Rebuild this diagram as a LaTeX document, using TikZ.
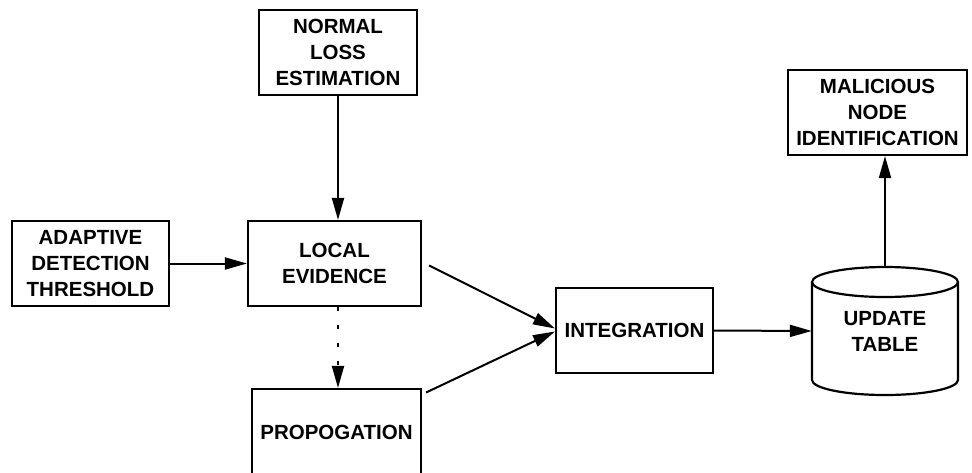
\documentclass[tikz,border=0pt]{standalone}
\usepackage{fontspec}
\setmainfont{Liberation Sans}
\usetikzlibrary{arrows.meta}
\begin{document}
\begin{tikzpicture}[x=1pt,y=-1pt,
  lbl/.style={font=\fontsize{20.5}{26}\selectfont\bfseries,align=center},
  box/.style={lbl,draw,line width=2.2pt,rectangle,inner sep=0pt},
  arr/.style={line width=2pt,-{Triangle[length=22pt,width=12pt]}},
  dotarr/.style={arr,dash pattern=on 4pt off 14pt}]
\useasboundingbox (0,0) rectangle (972,472);
\node[box,minimum width=158,minimum height=85] (norm) at (338,52.5) {NORMAL\\LOSS\\ESTIMATION};
\node[box,minimum width=157,minimum height=85] (adapt) at (90.5,263.5) {ADAPTIVE\\DETECTION\\THRESHOLD};
\node[box,minimum width=173,minimum height=85] (local) at (334.5,263.5) {LOCAL\\EVIDENCE};
\node[box,minimum width=169,minimum height=87] (prop) at (336.5,432.5) {PROPOGATION};
\node[box,minimum width=157,minimum height=85] (integ) at (634.5,330.5) {INTEGRATION};
\node[box,minimum width=179,minimum height=85] (mal) at (877.5,112.5) {MALICIOUS\\NODE\\IDENTIFICATION};
% cylinder
\node[lbl,inner sep=0pt,minimum width=146,minimum height=128] (upd) at (885,331) {UPDATE\\TABLE};
\draw[line width=2.2pt] (885,282) ellipse [x radius=73,y radius=15];
\draw[line width=2.2pt] (812,282) -- (812,380) arc[start angle=180,end angle=360,x radius=73,y radius=-15] -- (958,282);
% connectors
\draw[arr] (norm.south) -- (local.north -| norm.south);
\draw[arr] (adapt.east) -- (local.west);
\draw[dotarr] (local.south -| norm.south) -- (prop.north -| norm.south);
\draw[arr] ([shift={(7,2)}]local.east) -- ([shift={(0,-2)}]integ.west);
\draw[arr] ([shift={(4,-40)}]prop.east) -- ([shift={(0,1)}]integ.west);
\draw[arr] (integ.east) -- (upd.west);
\draw[arr] (upd.north) -- (upd.north |- mal.south);
\end{tikzpicture}
\end{document}
